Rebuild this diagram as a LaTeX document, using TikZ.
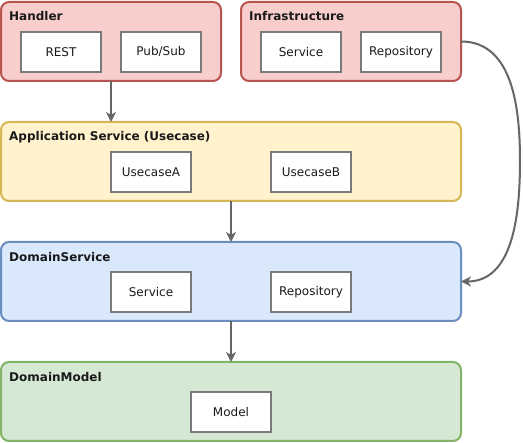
\documentclass[tikz,border=0pt]{standalone}
\usepackage{fontspec}
\setmainfont{DejaVu Sans}
\usetikzlibrary{arrows.meta,positioning}
\newcommand{\myunit}{1pt}
\newcommand{\labelfont}{\fontsize{12}{14}\selectfont}
\definecolor{hdldraw}{HTML}{B85450}
\definecolor{hdlfill}{HTML}{F8CECC}
\definecolor{appdraw}{HTML}{D6B656}
\definecolor{appfill}{HTML}{FFF2CC}
\definecolor{dsvdraw}{HTML}{6C8EBF}
\definecolor{dsvfill}{HTML}{DAE8FC}
\definecolor{mdldraw}{HTML}{82B366}
\definecolor{mdlfill}{HTML}{D5E8D4}
\definecolor{boxgray}{HTML}{7A7A7A}
\definecolor{arrowgray}{HTML}{666666}
\definecolor{textgray}{HTML}{1A1A1A}
\tikzset{
    layersty/.style={draw,rectangle,rounded corners=8*\myunit,line width=2*\myunit,minimum width=220*\myunit,minimum height=79*\myunit,inner sep=0pt,outer sep=0pt,anchor=north west},
    widesty/.style={layersty,minimum width=460*\myunit},
    titlesty/.style={anchor=west,inner sep=0pt,font=\labelfont\bfseries,text=textgray},
    compsty/.style={draw=boxgray,fill=white,rectangle,line width=2*\myunit,minimum width=80*\myunit,minimum height=40*\myunit,inner sep=0pt,outer sep=0pt,anchor=north west,font=\labelfont,text=textgray},
    depsty/.style={->,draw=arrowgray,line width=2*\myunit},
    hdlsty/.style={layersty,draw=hdldraw,fill=hdlfill},
    appsty/.style={widesty,draw=appdraw,fill=appfill},
    dsvsty/.style={widesty,draw=dsvdraw,fill=dsvfill},
    mdlsty/.style={widesty,draw=mdldraw,fill=mdlfill},
}

\begin{document}
\begin{tikzpicture}[>={Stealth[length=10pt,width=10pt,inset=3pt]},x=\myunit,y=-\myunit]
  \useasboundingbox (0,0) rectangle (523,443);

  % layers
  \node[hdlsty] (hdl) at (1,2) {};
  \node[hdlsty] (inf) at (241,2) {};
  \node[appsty] (app) at (1,122) {};
  \node[dsvsty] (dsv) at (1,242) {};
  \node[mdlsty] (mdl) at (1,362) {};

  \node[titlesty] (hdlttl) at ([shift={(8,14.5)}]hdl.north west) {Handler};
  \node[titlesty] (infttl) at ([shift={(8,14.5)}]inf.north west) {Infrastructure};
  \node[titlesty] (appttl) at ([shift={(8,15)}]app.north west) {Application Service (Usecase)};
  \node[titlesty] (dsvttl) at ([shift={(8,15)}]dsv.north west) {DomainService};
  \node[titlesty] (mdlttl) at ([shift={(8,15)}]mdl.north west) {DomainModel};

  % components
  \node[compsty] (rest) at (21,32) {REST};
  \node[compsty,right=20*\myunit of rest] (pubsub) {Pub/Sub};
  \node[compsty] (infsvc) at (261,32) {Service};
  \node[compsty,right=20*\myunit of infsvc] (infrepo) {Repository};
  \node[compsty] (ucA) at (111,152) {UsecaseA};
  \node[compsty,right=80*\myunit of ucA] (ucB) {UsecaseB};
  \node[compsty] (dsvsvc) at (111,272) {Service};
  \node[compsty,right=80*\myunit of dsvsvc] (dsvrepo) {Repository};
  \node[compsty] (model) at (191,392) {Model};

  % dependencies
  \draw[depsty] (hdl.south) -- (hdl.south |- app.north);
  \draw[depsty] (app.south) -- (dsv.north);
  \draw[depsty] (dsv.south) -- (mdl.north);
  \coordinate (bend) at (520,161);
  \draw[depsty] (inf.east) to[out=0,in=90] (bend) to[out=-90,in=0] (dsv.east);
\end{tikzpicture}
\end{document}
